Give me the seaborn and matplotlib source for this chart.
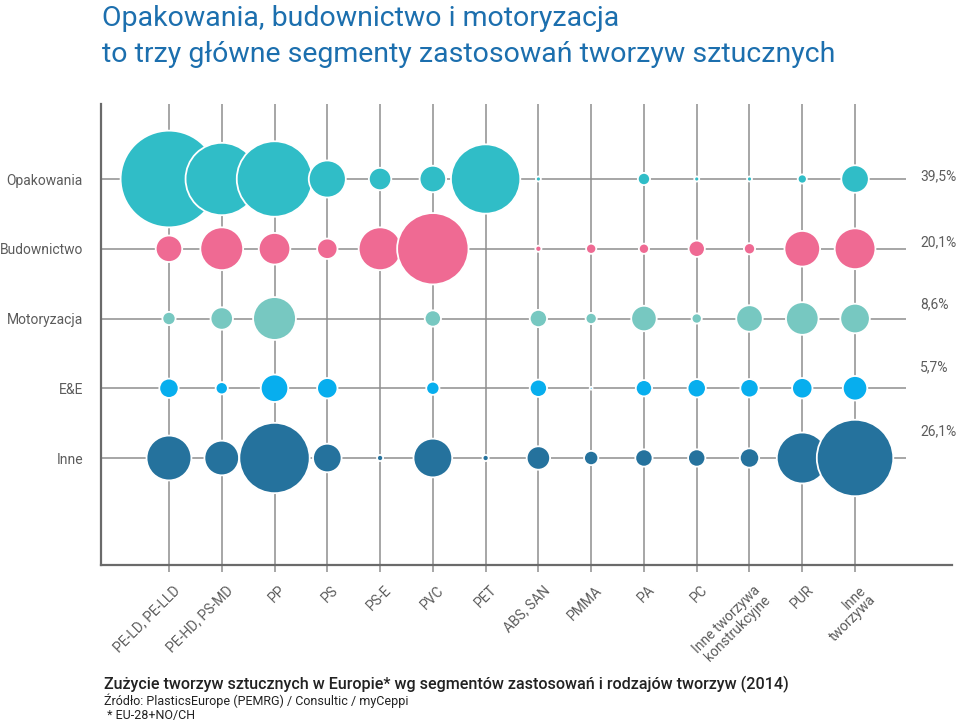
import matplotlib
matplotlib.use("Agg")
import matplotlib.pyplot as plt
import matplotlib.transforms as mtransforms
import numpy as np
import pandas as pd
import seaborn as sns

# ---------------- data ----------------
segments = ["Opakowania", "Budownictwo", "Motoryzacja", "E&E", "Inne"]
segment_share = ["39,5%", "20,1%", "8,6%", "5,7%", "26,1%"]
polymers = ["PE-LD, PE-LLD", "PE-HD, PS-MD", "PP", "PS", "PS-E", "PVC", "PET",
            "ABS, SAN", "PMMA", "PA", "PC", "Inne tworzywa\nkonstrukcyjne", "PUR",
            "Inne\ntworzywa"]
# estimated consumption (area-proportional units)
opakowania  = [4500, 2520, 2740, 660, 242, 338, 2312, 12, 0, 72, 12, 12, 40, 364]
budownictwo = [338, 882, 480, 200, 882, 2450, 0, 18, 50, 50, 128, 60, 612, 800]
motoryzacja = [84, 242, 882, 0, 0, 128, 0, 144, 60, 312, 50, 338, 512, 420]
ee          = [180, 72, 364, 200, 0, 84, 0, 144, 4, 128, 162, 162, 200, 288]
inne        = [968, 578, 2380, 392, 18, 722, 18, 264, 98, 144, 144, 180, 1250, 2812]

series = [opakowania, budownictwo, motoryzacja, ee, inne]
colors = ["#30BDC7", "#EF6A93", "#77C8C1", "#07AEEE", "#25729D"]

rows = []
for si, (seg, vals) in enumerate(zip(segments, series)):
    for pi, (pol, v) in enumerate(zip(polymers, vals)):
        rows.append(dict(segment=seg, seg_i=si, polymer=pol, pol_i=pi, value=v))
df = pd.DataFrame(rows)
df = df[df["value"] > 0].sort_values(["pol_i", "seg_i"])

# ---------------- figure ----------------
sns.set_style("white")
plt.rcParams["font.family"] = ["Roboto", "DejaVu Sans"]

W, H = 960, 725
fig = plt.figure(figsize=(W / 100, H / 100), dpi=100)
fig.patch.set_facecolor("white")
ax_l, ax_r, ax_t, ax_b = 101, 952, 104, 565
ax = fig.add_axes([ax_l / W, 1 - ax_b / H, (ax_r - ax_l) / W, (ax_b - ax_t) / H])

grid_c = "#8E8E8E"
txt_c = "#5C5C5C"

vmax = df["value"].max()
px_area = (2 * 0.72) ** 2 / 2.0  # points^2 per value unit (value ~ 2*r_px^2)
sns.scatterplot(data=df, x="pol_i", y="seg_i", hue="segment", palette=dict(zip(segments, colors)),
                size="value", sizes=(0, vmax * px_area * 1.04), size_norm=(0, vmax),
                edgecolor="white", linewidth=1.3, alpha=1, legend=False, ax=ax, zorder=3)

# limits (columns 0..13, rows 0..4)
col_sp = 52.8
row_sp = 69.75
xl = 0 - (169 - ax_l) / col_sp
xr = 13 + (ax_r - 855) / col_sp
yt = 0 - (179 - ax_t) / row_sp
yb = 4 + (ax_b - 458) / row_sp
ax.set_xlim(xl, xr)
ax.set_ylim(yb, yt)

# horizontal row lines
ax.hlines(range(len(segments)), xl, 13 + (906 - 855) / col_sp, color=grid_c, lw=1.1, zorder=1)
# vertical grid
ax.set_xticks(range(len(polymers)))
ax.grid(axis="x", color=grid_c, lw=1.1, zorder=1)
ax.grid(axis="y", visible=False)
ax.set_axisbelow(True)

ax.set_xticklabels(polymers, rotation=45, ha="right", va="top", rotation_mode="anchor",
                   color=txt_c, fontsize=10, linespacing=1.0)
ax.tick_params(axis="x", direction="out", length=5, width=1.1, color=grid_c, pad=8, bottom=True)
offset = mtransforms.ScaledTranslation(4 / 100, 0, fig.dpi_scale_trans)
for lab in ax.get_xticklabels():
    lab.set_transform(lab.get_transform() + offset)

ax.set_yticks(range(len(segments)))
ax.set_yticklabels(segments, color=txt_c, fontsize=10)
ax.tick_params(axis="y", length=0, pad=13)
ax.set_xlabel("")
ax.set_ylabel("")

for s in ["top", "right"]:
    ax.spines[s].set_visible(False)
for s in ["left", "bottom"]:
    ax.spines[s].set_color("#6A6A6A")
    ax.spines[s].set_linewidth(1.6)

# share labels on the right
share_off = [2, 5, 10, 15, 19]
ytr = ax.get_yaxis_transform()
for i, (txt, off) in enumerate(zip(segment_share, share_off)):
    ax.annotate(txt, xy=((920 - ax_l) / (ax_r - ax_l), i), xycoords=ytr,
                xytext=(0, off), textcoords="offset points",
                ha="left", va="center", color=txt_c, fontsize=10, annotation_clip=False)

# titles
title_c = "#1C6FAE"
fig.text(102 / W, 1 - 18 / H, "Opakowania, budownictwo i motoryzacja",
         color=title_c, fontsize=20.5, va="center", ha="left")
fig.text(102 / W, 1 - 54 / H, "to trzy główne segmenty zastosowań tworzyw sztucznych",
         color=title_c, fontsize=20.5, va="center", ha="left")

# caption
fig.text(104 / W, 1 - 684 / H,
         "Zużycie tworzyw sztucznych w Europie* wg segmentów zastosowań i rodzajów tworzyw (2014)",
         color="#222222", fontsize=11.6, fontweight="medium", va="center", ha="left")
fig.text(104 / W, 1 - 701 / H, "Źródło: PlasticsEurope (PEMRG) / Consultic / myCeppi",
         color="#222222", fontsize=9, va="center", ha="left")
fig.text(104 / W, 1 - 716 / H, " * EU-28+NO/CH",
         color="#222222", fontsize=9, va="center", ha="left")

fig.savefig("out.png", dpi=100, facecolor="white")
